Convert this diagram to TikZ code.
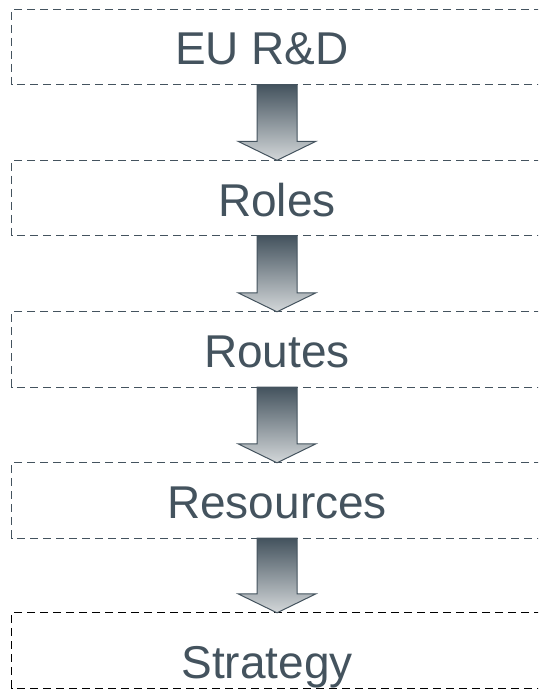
\documentclass[tikz,border=0pt]{standalone}
\usepackage{fontspec}
\setmainfont{Liberation Sans}
\usepackage{tikz}
\usetikzlibrary{calc}
\definecolor{slate}{HTML}{44535E}
\definecolor{mist}{HTML}{D3D7D9}
\tikzstyle{stage}=[rectangle, minimum width=530pt, minimum height=75pt, inner sep=0pt]
\tikzstyle{stagetext}=[anchor=base, inner sep=0pt, text=slate, font=\fontsize{46}{50}\selectfont]
\tikzstyle{frame}=[draw=slate, dash pattern=on 8pt off 5pt, line width=1.3pt]
\tikzstyle{flow}=[draw=slate, line width=1pt, top color=slate, bottom color=mist, line join=miter]

% three sided dashed frame, open on the right
\newcommand{\stageframe}[2][slate]{%
  \draw[frame, draw=#1] (#2.north east) -- (#2.north west) -- (#2.south west) -- (#2.south east);}
% block arrow from one stage down to the next
\newcommand{\stagearrow}[2]{%
  \draw[flow] ($(#1.south)+(-20,0)$) -- ($(#1.south)+(20,0)$)
    -- ($(#2.north)+(20,-19)$) -- ($(#2.north)+(39,-19)$)
    -- (#2.north) -- ($(#2.north)+(-39,-19)$)
    -- ($(#2.north)+(-20,-19)$) -- cycle;}

\begin{document}
\begin{tikzpicture}[x=1pt, y=-1pt]
  \clip (0,0) rectangle (538,690);
  \useasboundingbox (0,0) rectangle (538,690);
  \begin{scope}
    \node (eu) at (277, 47)[stage] {};
    \node (roles) at (277, 198)[stage] {};
    \node (routes) at (277, 349.5)[stage] {};
    \node (resources) at (277, 500.5)[stage] {};
    \node (strategy) at (277, 650.5)[stage] {};
    \node (eutext) at (262, 65)[stagetext] {EU R\&D};
    \node (rolestext) at (277, 216)[stagetext] {Roles};
    \node (routestext) at (277, 367)[stagetext] {Routes};
    \node (resourcestext) at (277, 518)[stagetext] {Resources};
    \node (strategytext) at (267, 678)[stagetext] {Strategy};
  \end{scope}
  \begin{scope}
    \stageframe{eu}
    \stageframe{roles}
    \stageframe{routes}
    \stageframe{resources}
    \stageframe[black]{strategy}
  \end{scope}
  \begin{scope}
    \stagearrow{eu}{roles}
    \stagearrow{roles}{routes}
    \stagearrow{routes}{resources}
    \stagearrow{resources}{strategy}
  \end{scope}
\end{tikzpicture}
\end{document}
